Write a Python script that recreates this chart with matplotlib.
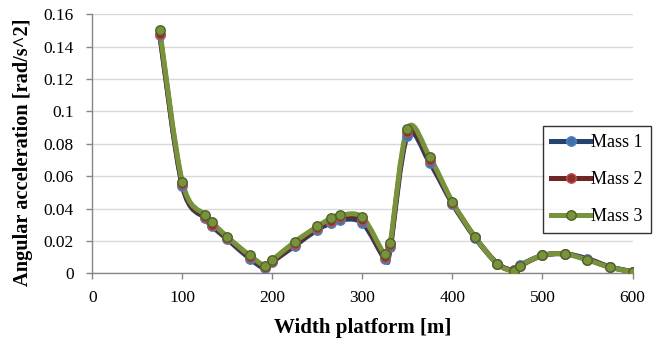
import numpy as np
import matplotlib
matplotlib.use("Agg")
import matplotlib.pyplot as plt
from matplotlib.path import Path
from matplotlib.patches import PathPatch
from matplotlib.lines import Line2D

# Platform width [m]
width = [75, 100, 125, 133, 150, 175, 192, 200, 225, 250, 265, 275, 300, 325,
         331, 350, 375, 400, 425, 450, 468, 475, 500, 525, 550, 575, 600]

# Angular acceleration [rad/s^2] for each mass case
mass1 = [0.147, 0.054, 0.034, 0.029, 0.021, 0.009, 0.003, 0.007, 0.017, 0.027,
         0.031, 0.033, 0.031, 0.009, 0.016, 0.085, 0.068, 0.043, 0.022, 0.006,
         0.002, 0.005, 0.011, 0.012, 0.009, 0.004, 0.001]
mass2 = [0.148, 0.055, 0.035, 0.030, 0.022, 0.010, 0.004, 0.0075, 0.018, 0.028,
         0.0325, 0.0345, 0.033, 0.010, 0.0175, 0.087, 0.070, 0.0435, 0.0225, 0.006,
         0.0018, 0.0045, 0.011, 0.012, 0.0085, 0.0038, 0.001]
mass3 = [0.150, 0.0565, 0.036, 0.0315, 0.0225, 0.011, 0.0047, 0.0082, 0.0195, 0.029,
         0.034, 0.0358, 0.0346, 0.0117, 0.019, 0.0893, 0.0716, 0.0442, 0.0226, 0.0057,
         0.0016, 0.0047, 0.0111, 0.0119, 0.0082, 0.0037, 0.001]

series_names = ["Mass 1", "Mass 2", "Mass 3"]
x_ticks = [0, 100, 200, 300, 400, 500, 600]
y_ticks = [0, 0.02, 0.04, 0.06, 0.08, 0.1, 0.12, 0.14, 0.16]
y_tick_labels = ["0", "0.02", "0.04", "0.06", "0.08", "0.1", "0.12", "0.14", "0.16"]

styles = [
    dict(line="#26436f", face="#3f6fae", edge="#4f81bd"),
    dict(line="#6e2624", face="#8c2f2c", edge="#c0504d"),
    dict(line="#77933c", face="#77933c", edge="#4f6228"),
]

FONT = "Liberation Serif"


def smooth_path(x, y):
    """Cubic Bezier path through the points (Catmull-Rom style tangents)."""
    pts = np.column_stack([x, y]).astype(float)
    verts = [pts[0]]
    codes = [Path.MOVETO]
    n = len(pts)
    for i in range(n - 1):
        p0 = pts[i - 1] if i > 0 else pts[i]
        p1 = pts[i]
        p2 = pts[i + 1]
        p3 = pts[i + 2] if i + 2 < n else pts[i + 1]
        c1 = p1 + (p2 - p0) / 6.0
        c2 = p2 - (p3 - p1) / 6.0
        verts += [c1, c2, p2]
        codes += [Path.CURVE4] * 3
    return Path(verts, codes)


fig = plt.figure(figsize=(6.55, 3.51), dpi=100)
ax = fig.add_axes([92.3 / 655, 1 - 273.3 / 351, (632.5 - 92.3) / 655, (273.3 - 14.3) / 351])

ax.set_xlim(0, 600)
ax.set_ylim(0, 0.16)
ax.set_xticks(x_ticks)
ax.set_xticklabels([str(t) for t in x_ticks])
ax.set_yticks(y_ticks)
ax.set_yticklabels(y_tick_labels)

ax.grid(axis="y", color="#d9d9d9", lw=1.0)
ax.set_axisbelow(True)
for s in ["top", "right"]:
    ax.spines[s].set_visible(False)
for s in ["left", "bottom"]:
    ax.spines[s].set_color("#868686")
    ax.spines[s].set_linewidth(1.0)
ax.tick_params(axis="both", colors="#868686", length=4.3, width=1.0,
               labelcolor="black", labelsize=12.5)
ax.tick_params(axis="x", pad=7.5)
ax.tick_params(axis="y", pad=9)
for lab in ax.get_xticklabels() + ax.get_yticklabels():
    lab.set_fontfamily(FONT)

handles = []
for name, yv, st in zip(series_names, [mass1, mass2, mass3], styles):
    patch = PathPatch(smooth_path(width, yv), fill=False, edgecolor=st["line"],
                      lw=3.6, capstyle="round", joinstyle="round", zorder=3)
    ax.add_patch(patch)
    ax.plot(width, yv, linestyle="none", marker="o", ms=6.8,
            mfc=st["face"], mec=st["edge"], mew=1.0, zorder=4)
    handles.append(Line2D([], [], color=st["line"], lw=3.6, marker="o", ms=6.8,
                          mfc=st["face"], mec=st["edge"], mew=1.0))

ax.set_xlabel("Width platform [m]", fontfamily=FONT, fontweight="bold", fontsize=15)
ax.set_ylabel("Angular acceleration [rad/s^2]", fontfamily=FONT, fontweight="bold",
              fontsize=14.7)
ax.xaxis.set_label_coords(0.5, (273.3 - 318) / 259)
ax.yaxis.set_label_coords((33 - 92.3) / 540.2, (273.3 - 152.5) / 259)

leg = fig.legend(handles, series_names, loc="upper left",
                 bbox_to_anchor=(543 / 655, 1 - 126 / 351),
                 prop={"family": FONT, "size": 13}, frameon=True, fancybox=False,
                 handlelength=2.2, handletextpad=0.0, labelspacing=1.1,
                 borderpad=0.45, borderaxespad=0.0)
leg.get_frame().set_edgecolor("black")
leg.get_frame().set_linewidth(1.0)

fig.savefig("out.png", dpi=100)
